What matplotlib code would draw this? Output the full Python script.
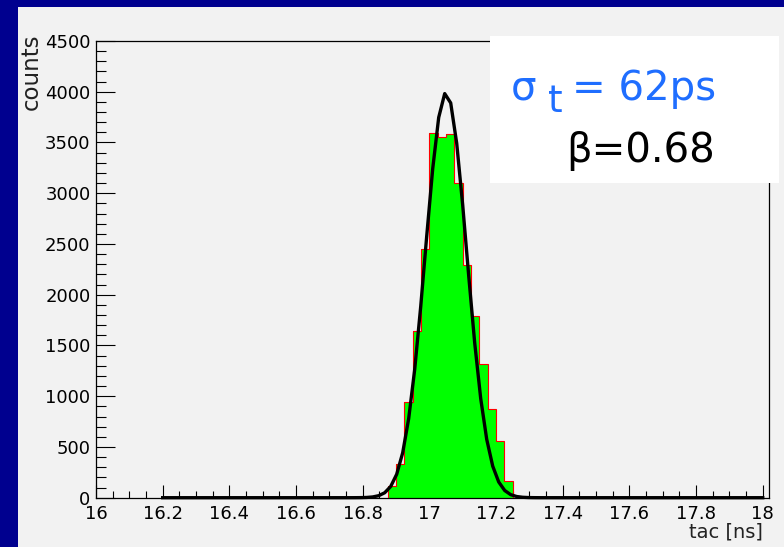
import matplotlib
matplotlib.use('Agg')
import matplotlib.pyplot as plt
import numpy as np
from matplotlib.patches import Rectangle
from matplotlib.ticker import MultipleLocator

# tac histogram: 0.025 ns bins, only the populated ones listed
bin_width = 0.025
first_edge = 16.875
counts = [118, 330, 945, 1640, 2450, 3590, 3550, 3585, 3100,
          2290, 1790, 1320, 875, 560, 160]

# gaussian fit result
fit_const = 3990.0
fit_mean = 17.05
fit_sigma = 0.062
fit_range = (16.2, 18.0)

sigma_label = "62ps"
beta_label = "0.68"

W, H = 784, 547
BG = '#00008f'
CANVAS = '#f2f2f2'


def fx(px):
    return px / W


def fy(py):
    return 1 - py / H


def main():
    fig = plt.figure(figsize=(W / 100, H / 100), dpi=100, facecolor=BG)
    fig.add_artist(Rectangle((fx(18), 0), fx(W - 18), fy(7), transform=fig.transFigure,
                             facecolor=CANVAS, edgecolor='none', zorder=-10))

    ax = fig.add_axes([fx(96), fy(497.7), fx(769.4 - 96), (497.7 - 41) / H])
    ax.set_facecolor(CANVAS)

    edges = first_edge + bin_width * np.arange(len(counts) + 1)
    ax.stairs(counts, edges, fill=True, color='#00ff00', zorder=2)
    ax.stairs(counts, edges, baseline=0, color='red', lw=0.8, zorder=3)

    # fit drawn on a 100-step grid over its range
    xf = np.linspace(fit_range[0], fit_range[1], 101)
    yf = fit_const * np.exp(-0.5 * ((xf - fit_mean) / fit_sigma) ** 2)
    ax.plot(xf, yf, color='black', lw=2.4, zorder=4, clip_on=False)

    ax.set_xlim(16, 18.02)
    ax.set_ylim(0, 4500)
    ax.xaxis.set_major_locator(MultipleLocator(0.2))
    ax.xaxis.set_minor_locator(MultipleLocator(0.05))
    ax.yaxis.set_major_locator(MultipleLocator(500))
    ax.yaxis.set_minor_locator(MultipleLocator(100))
    ax.xaxis.set_major_formatter(lambda v, pos: f"{v:g}")
    ax.tick_params(axis='both', which='both', direction='in', labelsize=13,
                   width=0.8, colors='black')
    ax.tick_params(axis='y', which='major', length=13.9, pad=4)
    ax.tick_params(axis='y', which='minor', length=7.2)
    ax.tick_params(axis='x', which='major', length=9.6, pad=5)
    ax.tick_params(axis='x', which='minor', length=4.8)
    for s in ax.spines.values():
        s.set_linewidth(0.9)
        s.set_color('black')

    fig.text(fx(31), fy(33), 'counts', rotation=90, ha='center', va='top',
             fontsize=16.5, color='#222222')
    fig.text(fx(762.7), fy(538), 'tac [ns]', ha='right', va='baseline',
             fontsize=14, color='#222222')

    # result box over the top-right corner of the frame
    fig.add_artist(Rectangle((fx(490), fy(183)), fx(779 - 490), (183 - 36) / H,
                             transform=fig.transFigure, facecolor='white',
                             edgecolor='none', zorder=5))
    blue = '#1f6eff'
    fig.text(fx(511), fy(100), '\u03c3', fontsize=29, color=blue,
             ha='left', va='baseline', zorder=6)
    fig.text(fx(548), fy(111.5), 't', fontsize=27, color=blue,
             ha='left', va='baseline', zorder=6)
    fig.text(fx(571.7), fy(100), f'= {sigma_label}', fontsize=29, color=blue,
             ha='left', va='baseline', zorder=6)
    fig.text(fx(566.7), fy(161.7), f'\u03b2={beta_label}', fontsize=29,
             color='black', ha='left', va='baseline', zorder=6)

    fig.savefig('out.png', dpi=100, facecolor=BG)
    plt.close(fig)


if __name__ == '__main__':
    main()
